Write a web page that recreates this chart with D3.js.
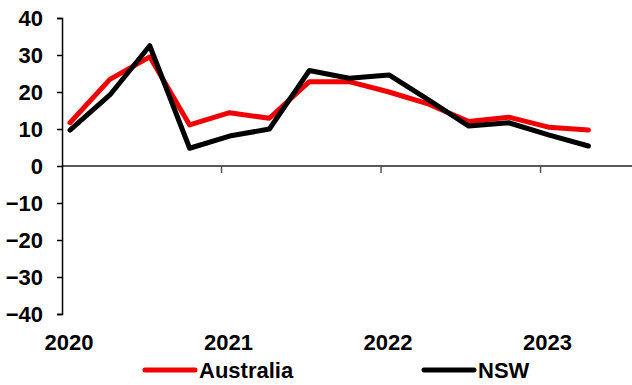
<!DOCTYPE html>
<html>
<head>
<meta charset="utf-8">
<script src="https://cdn.jsdelivr.net/npm/d3@7"></script>
<style>
  html, body { margin: 0; padding: 0; background: #fff; }
  svg { display: block; }
  text { font-family: "Liberation Sans", Arial, sans-serif; font-weight: bold; fill: #000; }
</style>
</head>
<body>
<svg id="chart" width="632" height="385"></svg>
<script>
// Quarterly data, Q1 2020 .. Q2 2023
const quarters = ["2020Q1","2020Q2","2020Q3","2020Q4","2021Q1","2021Q2","2021Q3","2021Q4",
                  "2022Q1","2022Q2","2022Q3","2022Q4","2023Q1","2023Q2"];
const australia = [11.7, 23.4, 29.5, 11.1, 14.4, 12.9, 22.8, 22.8, 20.0, 16.7, 12.0, 13.2, 10.5, 9.7];
const nsw       = [9.7, 19.2, 32.5, 4.8, 8.1, 10.0, 25.8, 23.7, 24.6, 17.8, 10.8, 11.7, 8.4, 5.4];
const yearLabels = ["2020", "2021", "2022", "2023"];
const yTicks = [-40, -30, -20, -10, 0, 10, 20, 30, 40];
const seriesNames = ["Australia", "NSW"];
const seriesColors = ["#f00000", "#000000"];

const svg = d3.select("#chart");

// x: quarter index; year boundaries sit 0.2 quarter before each Q1 point
const x = d3.scaleLinear().domain([0, 13]).range([70, 588.4]);
const y = d3.scaleLinear().domain([-40, 40]).range([314, 18]);

const x0 = x(-0.2);

// zero line across plot
svg.append("line")
  .attr("x1", x0).attr("x2", 632)
  .attr("y1", y(0)).attr("y2", y(0))
  .attr("stroke", "#222").attr("stroke-width", 1.5);

// year boundary ticks on zero line
const yearBoundaries = [1, 2, 3].map(k => 4 * k - 0.2);
svg.selectAll(".xtick").data(yearBoundaries).enter().append("line")
  .attr("x1", d => x(d)).attr("x2", d => x(d))
  .attr("y1", y(0)).attr("y2", y(0) + 7)
  .attr("stroke", "#555").attr("stroke-width", 1.5);

// y axis
const yAxis = d3.axisLeft(y).tickValues(yTicks).tickSize(5).tickPadding(14).tickFormat(d3.format("d"));
const gy = svg.append("g").attr("transform", `translate(${x0},0)`).call(yAxis);
gy.select(".domain").attr("stroke", "#000").attr("stroke-width", 1.5);
gy.selectAll(".tick line").attr("stroke", "#000").attr("stroke-width", 1.5);
gy.selectAll(".tick text")
  .style("font-family", '"Liberation Sans", Arial, sans-serif')
  .style("font-weight", "bold")
  .style("font-size", "22px")
  .attr("fill", "#000")
  .attr("dy", "0.36em");

// year labels centred under Q1 points
svg.selectAll(".year").data(yearLabels).enter().append("text")
  .attr("x", (d, i) => x(i * 4) - 1)
  .attr("y", 350)
  .attr("text-anchor", "middle")
  .style("font-size", "22px")
  .text(d => d);

// lines
const line = d3.line().x((d, i) => x(i)).y(d => y(d));
[australia, nsw].forEach((vals, si) => {
  svg.append("path")
    .datum(vals)
    .attr("d", line)
    .attr("fill", "none")
    .attr("stroke", seriesColors[si])
    .attr("stroke-width", 5)
    .attr("stroke-linejoin", "round")
    .attr("stroke-linecap", "round");
});

// legend
const legendX = [145, 424];
seriesNames.forEach((name, i) => {
  svg.append("line")
    .attr("x1", legendX[i]).attr("x2", legendX[i] + 50)
    .attr("y1", 370).attr("y2", 370)
    .attr("stroke", seriesColors[i]).attr("stroke-width", 5)
    .attr("stroke-linecap", "round");
  svg.append("text")
    .attr("x", legendX[i] + 54)
    .attr("y", 378)
    .style("font-size", "22px")
    .text(name);
});
</script>
</body>
</html>
